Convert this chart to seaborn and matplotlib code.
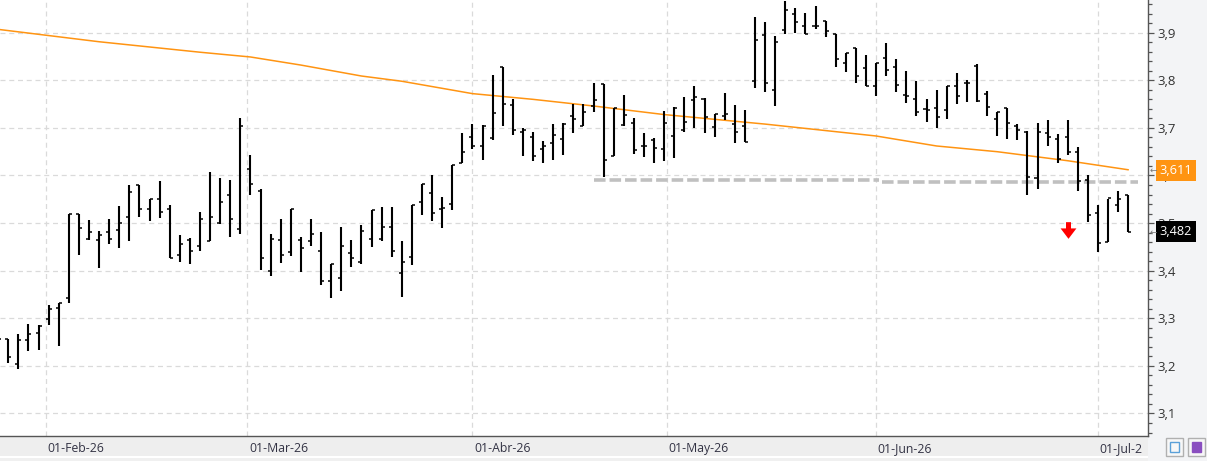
import matplotlib
matplotlib.use("Agg")
import matplotlib.pyplot as plt
import matplotlib.transforms as mtransforms
from matplotlib.ticker import MultipleLocator
from matplotlib.patches import Rectangle
import seaborn as sns

# Daily OHLC bars, one per trading session (bar 0 is cut at the left edge)
opens = [3.262, 3.257, 3.205, 3.254, 3.270, 3.299, 3.322, 3.343, 3.520, 3.467,
         3.464, 3.481, 3.485, 3.513, 3.579, 3.530, 3.551, 3.530, 3.433, 3.464,
         3.451, 3.462, 3.500, 3.560, 3.488, 3.613, 3.567, 3.399, 3.465, 3.439,
         3.465, 3.462, 3.442, 3.378, 3.385, 3.437, 3.418, 3.467, 3.467, 3.491,
         3.395, 3.428, 3.544, 3.563, 3.530, 3.540, 3.626, 3.681, 3.663, 3.678,
         3.827, 3.748, 3.691, 3.681, 3.655, 3.668, 3.676, 3.725, 3.704, 3.746,
         3.792, 3.642, 3.706, 3.710, 3.663, 3.675, 3.655, 3.682, 3.695, 3.759,
         3.761, 3.702, 3.724, 3.709, 3.704, 3.799, 3.895, 3.780, 3.906, 3.939,
         3.915, 3.914, 3.924, 3.897, 3.836, 3.867, 3.825, 3.788, 3.846, 3.827,
         3.769, 3.760, 3.739, 3.741, 3.738, 3.788, 3.794, 3.830, 3.771, 3.719,
         3.741, 3.704, 3.692, 3.595, 3.690, 3.676, 3.680, 3.650, 3.591, 3.521,
         3.460, 3.538, 3.560]
highs = [3.275, 3.257, 3.266, 3.289, 3.285, 3.328, 3.333, 3.520, 3.520, 3.507,
         3.484, 3.509, 3.535, 3.579, 3.581, 3.551, 3.589, 3.539, 3.476, 3.469,
         3.524, 3.607, 3.595, 3.590, 3.720, 3.644, 3.572, 3.478, 3.509, 3.530,
         3.470, 3.509, 3.481, 3.415, 3.492, 3.465, 3.495, 3.527, 3.534, 3.534,
         3.463, 3.537, 3.583, 3.600, 3.555, 3.623, 3.689, 3.709, 3.706, 3.811,
         3.827, 3.761, 3.699, 3.691, 3.673, 3.709, 3.710, 3.750, 3.750, 3.794,
         3.792, 3.741, 3.769, 3.720, 3.689, 3.678, 3.736, 3.743, 3.764, 3.788,
         3.762, 3.729, 3.773, 3.748, 3.738, 3.932, 3.922, 3.893, 3.966, 3.952,
         3.941, 3.956, 3.924, 3.897, 3.858, 3.867, 3.853, 3.836, 3.879, 3.844,
         3.820, 3.799, 3.760, 3.780, 3.788, 3.816, 3.801, 3.834, 3.778, 3.733,
         3.741, 3.708, 3.694, 3.710, 3.717, 3.687, 3.717, 3.660, 3.602, 3.538,
         3.551, 3.568, 3.560]
lows = [3.240, 3.207, 3.193, 3.231, 3.233, 3.285, 3.242, 3.333, 3.434, 3.464,
        3.405, 3.457, 3.447, 3.462, 3.512, 3.504, 3.510, 3.427, 3.418, 3.415,
        3.441, 3.462, 3.498, 3.470, 3.477, 3.560, 3.401, 3.389, 3.416, 3.430,
        3.397, 3.451, 3.370, 3.342, 3.357, 3.407, 3.414, 3.449, 3.462, 3.428,
        3.344, 3.412, 3.516, 3.504, 3.489, 3.528, 3.626, 3.655, 3.632, 3.674,
        3.703, 3.685, 3.640, 3.631, 3.626, 3.632, 3.644, 3.689, 3.703, 3.734,
        3.597, 3.642, 3.704, 3.645, 3.639, 3.627, 3.630, 3.637, 3.692, 3.699,
        3.689, 3.681, 3.716, 3.669, 3.670, 3.783, 3.776, 3.747, 3.897, 3.899,
        3.897, 3.907, 3.890, 3.827, 3.818, 3.794, 3.787, 3.768, 3.808, 3.776,
        3.753, 3.726, 3.713, 3.699, 3.719, 3.750, 3.755, 3.754, 3.724, 3.684,
        3.676, 3.674, 3.558, 3.572, 3.661, 3.627, 3.644, 3.567, 3.502, 3.440,
        3.460, 3.524, 3.482]
closes = [3.256, 3.219, 3.254, 3.266, 3.283, 3.319, 3.333, 3.520, 3.490, 3.481,
          3.474, 3.467, 3.500, 3.566, 3.530, 3.550, 3.524, 3.427, 3.456, 3.442,
          3.509, 3.513, 3.544, 3.509, 3.703, 3.583, 3.427, 3.467, 3.432, 3.530,
          3.448, 3.477, 3.378, 3.414, 3.451, 3.427, 3.484, 3.527, 3.491, 3.441,
          3.418, 3.537, 3.583, 3.521, 3.532, 3.623, 3.649, 3.661, 3.705, 3.731,
          3.750, 3.695, 3.696, 3.641, 3.662, 3.685, 3.709, 3.718, 3.733, 3.759,
          3.632, 3.741, 3.727, 3.654, 3.663, 3.658, 3.710, 3.741, 3.713, 3.764,
          3.723, 3.729, 3.729, 3.691, 3.670, 3.885, 3.794, 3.880, 3.948, 3.922,
          3.897, 3.914, 3.903, 3.845, 3.857, 3.810, 3.787, 3.836, 3.822, 3.790,
          3.766, 3.733, 3.738, 3.723, 3.788, 3.767, 3.794, 3.757, 3.743, 3.733,
          3.710, 3.695, 3.597, 3.691, 3.681, 3.634, 3.650, 3.588, 3.518, 3.458,
          3.553, 3.551, 3.482]

# Long moving average, read at a few bars
ma_bars = [0, 10, 20, 25, 30, 36, 40, 47, 53, 59, 66, 76, 87, 93, 99, 106, 112]
ma_values = [3.907, 3.881, 3.859, 3.849, 3.832, 3.809, 3.798, 3.772, 3.760,
             3.746, 3.728, 3.708, 3.683, 3.662, 3.650, 3.631, 3.612]

# Support line (two dashed pieces)
support_bars = [[59, 87.3], [87.6, 113]]
support_levels = [3.590, 3.587]

# Sell signal
signal_bar = 106
signal_price = 3.486

# Month ticks (first session of each month)
month_ticks = [4.7, 24.7, 47, 66.3, 87, 109]
month_labels = ["01-Feb-26", "01-Mar-26", "01-Abr-26", "01-May-26", "01-Jun-26", "01-Jul-26"]

price_ticks = [3.1, 3.2, 3.3, 3.4, 3.5, 3.6, 3.7, 3.8, 3.9]
price_labels = ["3,1", "3,2", "3,3", "3,4", "3,5", "3,6", "3,7", "3,8", "3,9"]

ma_last_label = "3,611"
close_last_label = "3,482"

sns.set_theme(style="white")
plt.rcParams["font.family"] = ["Open Sans", "DejaVu Sans"]

fig = plt.figure(figsize=(12.07, 4.61), dpi=100, facecolor="#f3f4f6")
ax = fig.add_axes([0, 25 / 461, 1147.5 / 1207, 436 / 461])
ax.set_facecolor("white")

# bottom date band (behind the axes so its ticks and labels stay on top)
fig.patches.append(Rectangle((0, 5 / 461), 1147.5 / 1207, 20 / 461, transform=fig.transFigure,
                             facecolor="#eeeeee", edgecolor="none", zorder=-1))
fig.patches.append(Rectangle((0, 3 / 461), 1147.5 / 1207, 2 / 461, transform=fig.transFigure,
                             facecolor="white", edgecolor="none", zorder=-1))
fig.patches.append(Rectangle((0, 0), 1147.5 / 1207, 3 / 461, transform=fig.transFigure,
                             facecolor="#f0f0f0", edgecolor="none", zorder=-1))

bars = list(range(len(closes)))
half = 0.3

ax.vlines(bars, lows, highs, color="black", linewidth=1.5, zorder=3)
ax.hlines(opens, [b - half for b in bars], bars, color="black", linewidth=1.1, zorder=3)
ax.hlines(closes, bars, [b + half for b in bars], color="black", linewidth=1.1, zorder=3)

sns.lineplot(x=ma_bars, y=ma_values, color="#ff9412", linewidth=1.1, ax=ax, zorder=2)

for seg, lvl in zip(support_bars, support_levels):
    ax.plot(seg, [lvl, lvl], color="#c0c0c0", linewidth=2.6, linestyle=(0, (3.2, 1.1)),
            solid_capstyle="butt", dash_capstyle="butt", zorder=2)

arrow = [(-0.3, 1.0), (0.3, 1.0), (0.3, 0.25), (0.95, 0.25), (0.0, -1.0), (-0.95, 0.25), (-0.3, 0.25)]
ax.plot([signal_bar], [signal_price], marker=arrow, markersize=12, color="#ff0000",
        markeredgewidth=0, linestyle="none", zorder=4)

ax.set_xlim(0.18, 113.9)
ax.set_ylim(3.0527, 3.9687)

# grid
for p in price_ticks:
    ax.axhline(p, color="#dadada", linewidth=0.9, linestyle=(0, (4, 3)), zorder=1)
for m in month_ticks:
    ax.axvline(m, color="#dadada", linewidth=0.9, linestyle=(0, (4, 3)), zorder=1)

for side in ["top", "left"]:
    ax.spines[side].set_visible(False)
for side in ["right", "bottom"]:
    ax.spines[side].set_color("#555555")
    ax.spines[side].set_linewidth(1.0)

ax.yaxis.tick_right()
ax.set_yticks(price_ticks)
ax.set_yticklabels(price_labels)
ax.yaxis.set_minor_locator(MultipleLocator(0.02))
ax.tick_params(axis="y", which="major", length=4.5, width=0.9, color="#555555",
               labelsize=9.5, labelcolor="#333333", pad=3)
ax.tick_params(axis="y", which="minor", length=3, width=0.9, color="#555555")

ax.set_xticks(month_ticks)
ax.set_xticklabels([])
ax.tick_params(axis="x", which="major", length=6.5, width=0.9, color="#555555")

# month labels, cut just before the price axis like the original
clip = mtransforms.TransformedBbox(mtransforms.Bbox([[0, -0.2], [0.995, 1]]), ax.transAxes)
xlab_tr = mtransforms.blended_transform_factory(ax.transData, ax.transAxes)
for m, lab in zip(month_ticks, month_labels):
    t = ax.text(m, 0, lab, transform=xlab_tr + mtransforms.ScaledTranslation(1.5 / 100, -12.5 / 100, fig.dpi_scale_trans),
                ha="left", va="center", fontsize=8.8, color="#333344")
    t.set_clip_path(None)
    t.set_clip_box(clip)
    t.set_clip_on(True)

# last-value tags on the price axis
ytag = mtransforms.blended_transform_factory(ax.transAxes, ax.transData)
for val, lab, bg in [(ma_values[-1] - 0.001, ma_last_label, "#ff9412"), (closes[-1], close_last_label, "black")]:
    ax.text(1, val, lab, transform=ytag + mtransforms.ScaledTranslation(12 / 100, 0, fig.dpi_scale_trans),
            ha="left", va="center", fontsize=9.2, color="white", clip_on=False, zorder=6,
            bbox=dict(boxstyle="square,pad=0.3", facecolor=bg, edgecolor="none"))
    ax.text(1, val, "\u2190", transform=ytag + mtransforms.ScaledTranslation(2 / 100, 0, fig.dpi_scale_trans),
            ha="left", va="center", fontsize=6.5, color="#777777", clip_on=False, zorder=6,
            family="DejaVu Sans")

# toolbar buttons at the bottom right
for x0, col in [(1166, "#5aa0d8"), (1188, "#8a4fc0")]:
    fig.patches.append(Rectangle((x0 / 1207, 5 / 461), 17 / 1207, 18 / 461, transform=fig.transFigure,
                                 facecolor="#f7f7f7", edgecolor="#b0b0b0", linewidth=1.0))
    fig.patches.append(Rectangle(((x0 + 4) / 1207, 9 / 461), 9 / 1207, 10 / 461, transform=fig.transFigure,
                                 facecolor=col if x0 > 1170 else "none", edgecolor=col, linewidth=1.0))

fig.savefig("out.png", dpi=100, facecolor=fig.get_facecolor())
